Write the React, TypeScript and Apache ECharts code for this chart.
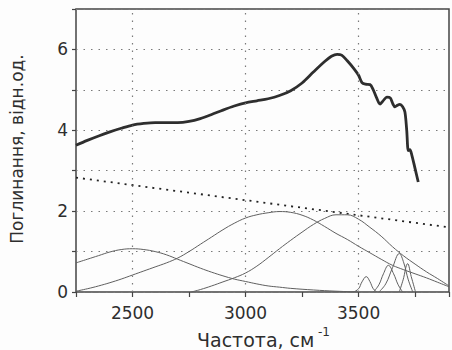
import React, { useEffect, useRef } from "react";
import * as echarts from "echarts";

const xRange = [2250, 3900];
const yRange = [0, 7];
const xGridValues = [2500, 3000, 3500];

const totalCurve: [number, number][] = [
  [2250, 3.63], [2300, 3.75], [2350, 3.86], [2400, 3.96], [2450, 4.05], [2500, 4.13],
  [2550, 4.17], [2600, 4.19], [2650, 4.19], [2700, 4.19], [2750, 4.22], [2800, 4.29],
  [2850, 4.39], [2900, 4.5], [2950, 4.6], [3000, 4.68], [3050, 4.73], [3100, 4.78],
  [3150, 4.86], [3200, 4.98], [3250, 5.17], [3300, 5.44], [3350, 5.7], [3380, 5.83],
  [3405, 5.88], [3425, 5.86], [3450, 5.72], [3480, 5.52], [3500, 5.36], [3515, 5.18],
  [3530, 5.14], [3551, 5.13], [3565, 5.0], [3580, 4.8], [3595, 4.65], [3610, 4.74],
  [3625, 4.82], [3640, 4.8], [3652, 4.65], [3661, 4.58], [3672, 4.62], [3683, 4.64],
  [3695, 4.58], [3705, 4.45], [3713, 4.0], [3720, 3.5], [3727, 3.52], [3735, 3.4],
  [3750, 3.05], [3764, 2.72],
];

const baseline: [number, number][] = [[2250, 2.83], [3900, 1.6]];

const band2500: [number, number][] = [
  [2250, 0.72], [2300, 0.81], [2350, 0.9], [2400, 0.99], [2450, 1.05], [2500, 1.07],
  [2550, 1.05], [2600, 1.0], [2650, 0.92], [2700, 0.81], [2750, 0.7], [2800, 0.59],
  [2850, 0.49], [2900, 0.4], [2950, 0.32], [3000, 0.26], [3050, 0.2], [3100, 0.15],
  [3150, 0.12], [3200, 0.09], [3300, 0.05], [3400, 0.02], [3500, 0.0],
];

const band3150: [number, number][] = [
  [2250, 0.02], [2300, 0.08], [2350, 0.15], [2400, 0.23], [2450, 0.32], [2500, 0.42],
  [2550, 0.52], [2600, 0.62], [2650, 0.72], [2700, 0.84], [2750, 1.0], [2800, 1.18],
  [2850, 1.36], [2900, 1.54], [2950, 1.7], [3000, 1.83], [3050, 1.91], [3100, 1.96],
  [3150, 1.99], [3200, 1.97], [3250, 1.9], [3300, 1.78], [3350, 1.62], [3400, 1.45],
  [3450, 1.3], [3500, 1.13], [3550, 0.97], [3600, 0.81], [3650, 0.66], [3700, 0.55],
  [3750, 0.45], [3800, 0.35], [3850, 0.24], [3900, 0.13],
];

const band3430: [number, number][] = [
  [2760, 0.0], [2800, 0.06], [2850, 0.15], [2900, 0.25], [2950, 0.35], [3000, 0.47],
  [3050, 0.64], [3100, 0.85], [3150, 1.07], [3200, 1.28], [3250, 1.48], [3300, 1.67],
  [3350, 1.82], [3400, 1.91], [3450, 1.91], [3500, 1.8], [3550, 1.6], [3600, 1.38],
  [3650, 1.12], [3700, 0.89], [3750, 0.69], [3800, 0.5], [3850, 0.33], [3900, 0.15],
];

const band3534: [number, number][] = [
  [3478, 0.0], [3500, 0.08], [3515, 0.25], [3534, 0.38], [3550, 0.26], [3565, 0.08], [3581, 0.0],
];
const band3632: [number, number][] = [
  [3566, 0.0], [3590, 0.18], [3610, 0.45], [3632, 0.66], [3655, 0.45], [3675, 0.18], [3695, 0.0],
];
const band3680: [number, number][] = [
  [3590, 0.0], [3620, 0.2], [3650, 0.6], [3680, 0.95], [3700, 0.72], [3720, 0.3], [3740, 0.0],
];
const band3717: [number, number][] = [
  [3680, 0.0], [3697, 0.3], [3717, 0.7], [3733, 0.38], [3752, 0.0],
];

const components = [band2500, band3150, band3430, band3534, band3632, band3680, band3717];

const xTitle = "Частота, см";
const xTitleSup = "-1";
const yTitle = "Поглинання, відн.од.";

const FONT = "DejaVu Sans";

export default function App() {
  const ref = useRef<HTMLDivElement>(null);
  useEffect(() => {
    document.body.style.margin = "0";
    if (!ref.current) return;
    const chart = echarts.init(ref.current, null, { renderer: "svg" });
    const thin = components.map((d) => ({
      type: "line",
      data: d,
      smooth: 0.4,
      symbol: "none",
      silent: true,
      lineStyle: { color: "#5f5f5f", width: 1 },
      z: 3,
    }));
    chart.setOption({
      animation: false,
      backgroundColor: "#fdfdfd",
      grid: {
        left: 76,
        right: -2,
        top: 9,
        bottom: 58,
        show: true,
        borderColor: "#444",
        borderWidth: 1.5,
      },
      xAxis: {
        type: "value",
        min: xRange[0],
        max: xRange[1],
        interval: 250,
        axisLine: { show: false },
        axisTick: { show: true, length: 5, lineStyle: { color: "#444", width: 1.2 } },
        splitLine: { show: false },
        axisLabel: {
          color: "#2e2e2e",
          fontFamily: FONT,
          fontSize: 17,
          margin: 12,
          formatter: (v: number) => (v % 500 === 0 ? String(v) : ""),
        },
      },
      yAxis: {
        type: "value",
        min: yRange[0],
        max: yRange[1],
        interval: 1,
        axisLine: { show: false },
        axisTick: { show: true, length: 4, lineStyle: { color: "#444", width: 1.2 } },
        splitLine: { show: true, lineStyle: { color: "#7a7a7a", width: 1.2, type: [1.5, 6] } },
        axisLabel: {
          color: "#2e2e2e",
          fontFamily: FONT,
          fontSize: 17,
          margin: 8,
          formatter: (v: number) => (v % 2 === 0 && v < 7 ? String(v) : ""),
        },
      },
      graphic: [
        {
          type: "text",
          x: 17,
          y: 149,
          rotation: Math.PI / 2,
          style: {
            text: yTitle,
            fill: "#2e2e2e",
            font: `17px "${FONT}"`,
            align: "center",
            verticalAlign: "middle",
          },
        },
        {
          type: "text",
          x: 197,
          y: 340,
          style: {
            text: xTitle,
            fill: "#2e2e2e",
            font: `19px "${FONT}"`,
            align: "left",
            verticalAlign: "middle",
          },
        },
        {
          type: "text",
          x: 318,
          y: 332,
          style: {
            text: xTitleSup,
            fill: "#2e2e2e",
            font: `12px "${FONT}"`,
            align: "left",
            verticalAlign: "middle",
          },
        },
      ],
      series: [
        {
          type: "line",
          data: baseline,
          symbol: "none",
          silent: true,
          lineStyle: { color: "#222", width: 1.8, type: [2, 5] },
          z: 2,
          markLine: {
            silent: true,
            symbol: "none",
            label: { show: false },
            lineStyle: { color: "#7a7a7a", width: 1.2, type: [1.5, 6] },
            data: xGridValues.map((v) => ({ xAxis: v })),
          },
        },
        ...thin,
        {
          type: "line",
          data: totalCurve,
          smooth: 0.3,
          symbol: "none",
          silent: true,
          lineStyle: { color: "#2e2e2e", width: 2.8 },
          z: 4,
        },
      ],
    });
    return () => chart.dispose();
  }, []);
  return <div ref={ref} style={{ width: 452, height: 350 }} />;
}
